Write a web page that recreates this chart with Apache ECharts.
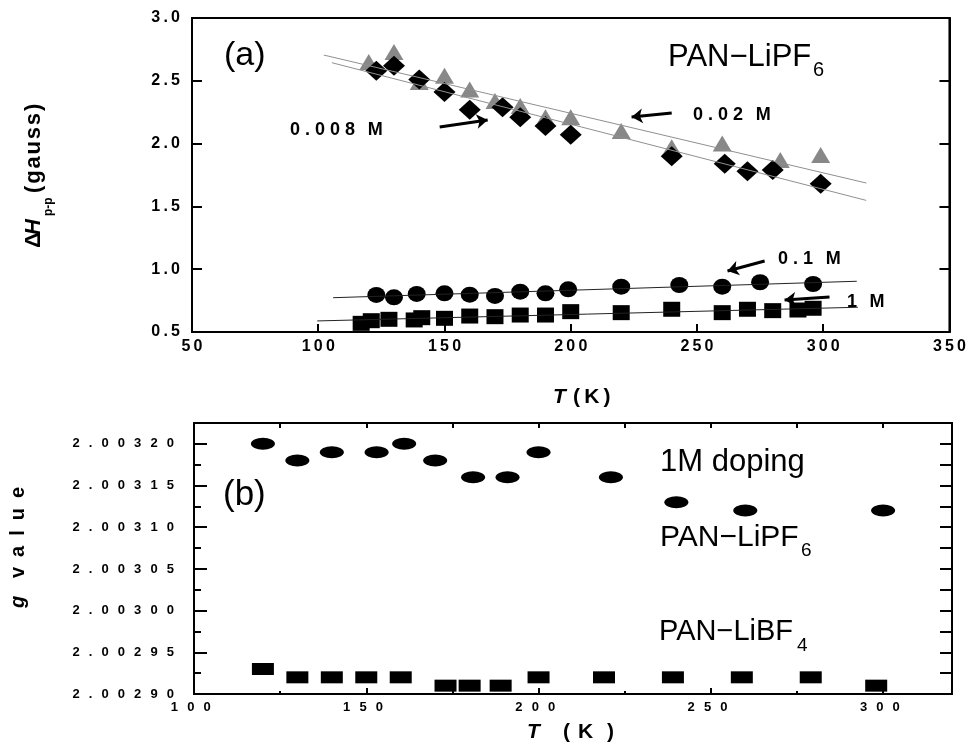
<!DOCTYPE html>
<html><head><meta charset="utf-8">
<script src="https://cdn.jsdelivr.net/npm/echarts@6/dist/echarts.min.js"></script>
<style>html,body{margin:0;padding:0;background:#fff}#c{width:969px;height:747px}</style>
</head><body><div id="c"></div>
<script>
// ---------- Panel (a): ΔHpp vs T ----------
const tTri002 = [120, 130, 140, 150, 160, 170, 180, 190, 200, 220, 240, 260, 283, 299];
const dh002   = [2.65, 2.73, 2.49, 2.54, 2.43, 2.34, 2.30, 2.21, 2.21, 2.10, 1.97, 2.00, 1.87, 1.91];
const tDia0008 = [123, 130, 140, 150, 160, 173, 180, 190, 200, 240, 261, 270, 280, 299];
const dh0008   = [2.58, 2.62, 2.51, 2.41, 2.27, 2.29, 2.21, 2.14, 2.07, 1.90, 1.84, 1.78, 1.79, 1.68];
const tCirc01 = [123, 130, 139, 150, 160, 170, 180, 190, 199, 220, 243, 260, 275, 296];
const dh01    = [0.795, 0.776, 0.803, 0.808, 0.797, 0.787, 0.821, 0.808, 0.840, 0.861, 0.874, 0.861, 0.896, 0.882];
const tSq1 = [117, 121, 128, 138, 141, 150, 160, 170, 180, 190, 200, 220, 240, 260, 270, 280, 290, 296];
const dh1  = [0.569, 0.590, 0.601, 0.596, 0.614, 0.609, 0.627, 0.622, 0.635, 0.635, 0.662, 0.654, 0.681, 0.654, 0.681, 0.670, 0.675, 0.689];
// fitted lines (end points, data units)
const fit002  = [[102.2, 2.705], [317.1, 1.686]];
const fit0008 = [[105.4, 2.644], [317.0, 1.548]];
const fit01   = [[105.9, 0.773], [313.3, 0.904]];
const fit1    = [[99.6, 0.588], [313.7, 0.697]];
// annotation arrows [xFrom, yFrom, xTo(head), yTo(head)]
const arrowsA = [[148.1, 2.132, 167.1, 2.188], [240.0, 2.244, 224.1, 2.212], [276.8, 1.065, 262.1, 0.986], [302.5, 0.779, 284.7, 0.755]];
const xTicksA = [50, 100, 150, 200, 250, 300, 350];
const yTicksA = [0.5, 1.0, 1.5, 2.0, 2.5, 3.0];

// ---------- Panel (b): g value vs T ----------
const tPF6 = [120, 130, 140, 153, 161, 170, 181, 191, 200, 221, 240, 260, 300];
const gPF6 = [2.00320, 2.00318, 2.00319, 2.00319, 2.00320, 2.00318, 2.00316, 2.00316, 2.00319, 2.00316, 2.00313, 2.00312, 2.00312];
const tBF4 = [120, 130, 140, 150, 160, 173, 180, 189, 200, 219, 239, 259, 279, 298];
const gBF4 = [2.00293, 2.00292, 2.00292, 2.00292, 2.00292, 2.00291, 2.00291, 2.00291, 2.00292, 2.00292, 2.00292, 2.00292, 2.00292, 2.00291];
const xTicksB = [100, 150, 200, 250, 300];
const yTicksB = [2.00290, 2.00295, 2.00300, 2.00305, 2.00310, 2.00315, 2.00320];

const zip = (a, b) => a.map((v, i) => [v, b[i]]);
const FF = '"Liberation Sans", Arial, sans-serif';
const sp = (s, sep) => String(s).split('').join(sep);
const sepA = '\u2009';
const sepB = '\u2002\u2009';

function txt(x, y, text, font, align, vAlign) {
  return { type: 'text', x: x, y: y, silent: true,
    style: { text: text, font: font, fill: '#000', textAlign: align || 'left', textVerticalAlign: vAlign || 'middle' } };
}

const chart = echarts.init(document.getElementById('c'), null, { renderer: 'canvas' });
const blackLine = { lineStyle: { color: '#000', width: 2 } };
const lblA = { fontFamily: FF, fontWeight: 'bold', fontSize: 16, color: '#000' };
const lblB = { fontFamily: FF, fontWeight: 'bold', fontSize: 13, color: '#000' };
const black = { color: '#000', opacity: 1 };

const option = {
  animation: false,
  backgroundColor: '#fff',
  grid: [
    { left: 192, top: 18, width: 758, height: 314, show: true, borderColor: '#000', borderWidth: 2, backgroundColor: 'transparent' },
    { left: 194, top: 423, width: 758, height: 271, show: true, borderColor: '#000', borderWidth: 2, backgroundColor: 'transparent' }
  ],
  xAxis: [
    { gridIndex: 0, type: 'value', position: 'bottom', min: xTicksA[0], max: xTicksA[xTicksA.length - 1], interval: 50,
      axisLine: blackLine, axisTick: { inside: true, length: 8, lineStyle: { color: '#000', width: 2 } },
      splitLine: { show: false },
      axisLabel: Object.assign({ margin: 7, formatter: v => sp(v, sepA) }, lblA) },
    { gridIndex: 1, type: 'value', position: 'bottom', min: xTicksB[0], max: 320, interval: 50,
      axisLine: blackLine, axisTick: { inside: true, length: 6, lineStyle: { color: '#000', width: 2 } },
      splitLine: { show: false },
      axisLabel: Object.assign({ margin: 7, showMaxLabel: false, formatter: v => (v % 50 === 0 && v <= 300) ? sp(v, sepB) + '\u2002' : '' }, lblB) },
    { gridIndex: 1, type: 'value', position: 'bottom', min: 100, max: 320, interval: 25,
      axisLine: { show: false }, axisTick: { inside: true, length: 3, lineStyle: { color: '#000', width: 2 } },
      splitLine: { show: false }, axisLabel: { show: false } },
    { gridIndex: 1, type: 'value', position: 'top', min: 100, max: 320, interval: 25,
      axisLine: blackLine, axisTick: { inside: true, length: 5, lineStyle: { color: '#000', width: 2 } },
      splitLine: { show: false }, axisLabel: { show: false } }
  ],
  yAxis: [
    { gridIndex: 0, type: 'value', position: 'left', min: yTicksA[0], max: yTicksA[yTicksA.length - 1], interval: 0.5,
      axisLine: blackLine, axisTick: { inside: true, length: 10, lineStyle: { color: '#000', width: 2 } },
      splitLine: { show: false },
      axisLabel: Object.assign({ margin: 12, formatter: v => sp(v.toFixed(1), sepA) }, lblA) },
    { gridIndex: 0, type: 'value', position: 'right', min: 0.5, max: 3.0, interval: 0.5,
      axisLine: blackLine, axisTick: { inside: true, length: 10, lineStyle: { color: '#000', width: 2 } },
      splitLine: { show: false }, axisLabel: { show: false } },
    { gridIndex: 1, type: 'value', position: 'left', min: yTicksB[0], max: 2.003225, interval: 0.00005,
      axisLine: blackLine, axisTick: { inside: true, length: 13, lineStyle: { color: '#000', width: 2 } },
      splitLine: { show: false },
      axisLabel: Object.assign({ margin: 20, showMaxLabel: false, formatter: v => v > 2.00321 ? '' : sp(v.toFixed(5), sepB) }, lblB) },
    { gridIndex: 1, type: 'value', position: 'left', min: 2.0029, max: 2.003225, interval: 0.000025,
      axisLine: { show: false }, axisTick: { inside: true, length: 7, lineStyle: { color: '#000', width: 2 } },
      splitLine: { show: false }, axisLabel: { show: false } },
    { gridIndex: 1, type: 'value', position: 'right', min: 2.0029, max: 2.003225, interval: 0.000025,
      axisLine: blackLine, axisTick: { inside: true, length: 12, lineStyle: { color: '#000', width: 2 } },
      splitLine: { show: false }, axisLabel: { show: false } }
  ],
  series: [
    { type: 'line', xAxisIndex: 0, yAxisIndex: 0, data: fit002, symbol: 'none', silent: true,
      lineStyle: { color: '#909090', width: 1 } },
    { type: 'line', xAxisIndex: 0, yAxisIndex: 0, data: fit0008, symbol: 'none', silent: true,
      lineStyle: { color: '#909090', width: 1 } },
    { type: 'line', xAxisIndex: 0, yAxisIndex: 0, data: fit01, symbol: 'none', silent: true,
      lineStyle: { color: '#222', width: 1 } },
    { type: 'line', xAxisIndex: 0, yAxisIndex: 0, data: fit1, symbol: 'none', silent: true,
      lineStyle: { color: '#222', width: 1 },
      markLine: { silent: true, symbol: ['none', 'arrow'], symbolSize: 11, label: { show: false },
        lineStyle: { color: '#000', width: 3, type: 'solid', opacity: 1 }, emphasis: { disabled: true },
        data: arrowsA.map(a => [{ coord: [a[0], a[1]] }, { coord: [a[2], a[3]] }]) } },
    { type: 'scatter', name: '0.02 M', xAxisIndex: 0, yAxisIndex: 0, data: zip(tTri002, dh002),
      symbol: 'triangle', symbolSize: [19, 16], itemStyle: { color: '#888888', opacity: 1 }, silent: true },
    { type: 'scatter', name: '0.008 M', xAxisIndex: 0, yAxisIndex: 0, data: zip(tDia0008, dh0008),
      symbol: 'diamond', symbolSize: [22, 20], itemStyle: black, silent: true },
    { type: 'scatter', name: '0.1 M', xAxisIndex: 0, yAxisIndex: 0, data: zip(tCirc01, dh01),
      symbol: 'circle', symbolSize: [18, 16], itemStyle: black, silent: true },
    { type: 'scatter', name: '1 M', xAxisIndex: 0, yAxisIndex: 0, data: zip(tSq1, dh1),
      symbol: 'rect', symbolSize: [17, 15], itemStyle: black, silent: true },
    { type: 'scatter', name: 'PAN-LiPF6', xAxisIndex: 1, yAxisIndex: 2, data: zip(tPF6, gPF6),
      symbol: 'circle', symbolSize: [24, 12], itemStyle: black, silent: true },
    { type: 'scatter', name: 'PAN-LiBF4', xAxisIndex: 1, yAxisIndex: 2, data: zip(tBF4, gBF4),
      symbol: 'rect', symbolSize: [22, 12], itemStyle: black, silent: true }
  ],
  graphic: [
    // panel (a) texts
    txt(224, 56, '(a)', '34px ' + FF),
    txt(668, 57, 'PAN\u2212LiPF', '31px ' + FF),
    txt(813, 70, '6', '20px ' + FF),
    txt(290, 130, '0 . 0 0 8\u2002\u2009M', 'bold 18px ' + FF),
    txt(693, 115.5, '0 . 0 2\u2002\u2009M', 'bold 18px ' + FF),
    txt(778, 259.5, '0 . 1\u2002\u2009M', 'bold 18px ' + FF),
    txt(847, 302.5, '1\u2002\u2009M', 'bold 18px ' + FF),
    // panel (a) axis titles
    txt(553, 397, 'T', 'italic bold 21px ' + FF),
    txt(573, 397, '(\u2009K\u2009)', 'bold 21px ' + FF),
    { type: 'group', x: 33.5, y: 248, rotation: Math.PI / 2, silent: true, children: [
      txt(0, 0, '\u0394', 'bold 22px ' + FF),
      txt(13, 0, 'H', 'italic bold 22px ' + FF),
      txt(32, 15, 'p-p', 'bold 12px ' + FF),
      txt(55, 0, sp('(gauss)', '\u200A'), 'bold 22px ' + FF)
    ] },
    // panel (b) texts
    txt(223, 495, '(b)', '35px ' + FF),
    txt(660, 462, '1M doping', '31px ' + FF),
    txt(660, 538, 'PAN\u2212LiPF', '30px ' + FF),
    txt(801, 551, '6', '19px ' + FF),
    txt(659, 632, 'PAN\u2212LiBF', '29px ' + FF),
    txt(797, 646, '4', '19px ' + FF),
    // panel (b) axis titles
    txt(527, 732, 'T', 'italic bold 21px ' + FF),
    txt(563, 732, '(', 'bold 21px ' + FF),
    txt(578, 732, 'K', 'bold 21px ' + FF),
    txt(607, 732, ')', 'bold 21px ' + FF),
    { type: 'group', x: 18, y: 608, rotation: Math.PI / 2, silent: true, children: [
      txt(0, 0, 'g', 'italic bold 20px ' + FF),
      txt(30, 0, sp('value', '\u2002'), 'bold 20px ' + FF)
    ] }
  ]
};
chart.setOption(option);
</script>
</body></html>
